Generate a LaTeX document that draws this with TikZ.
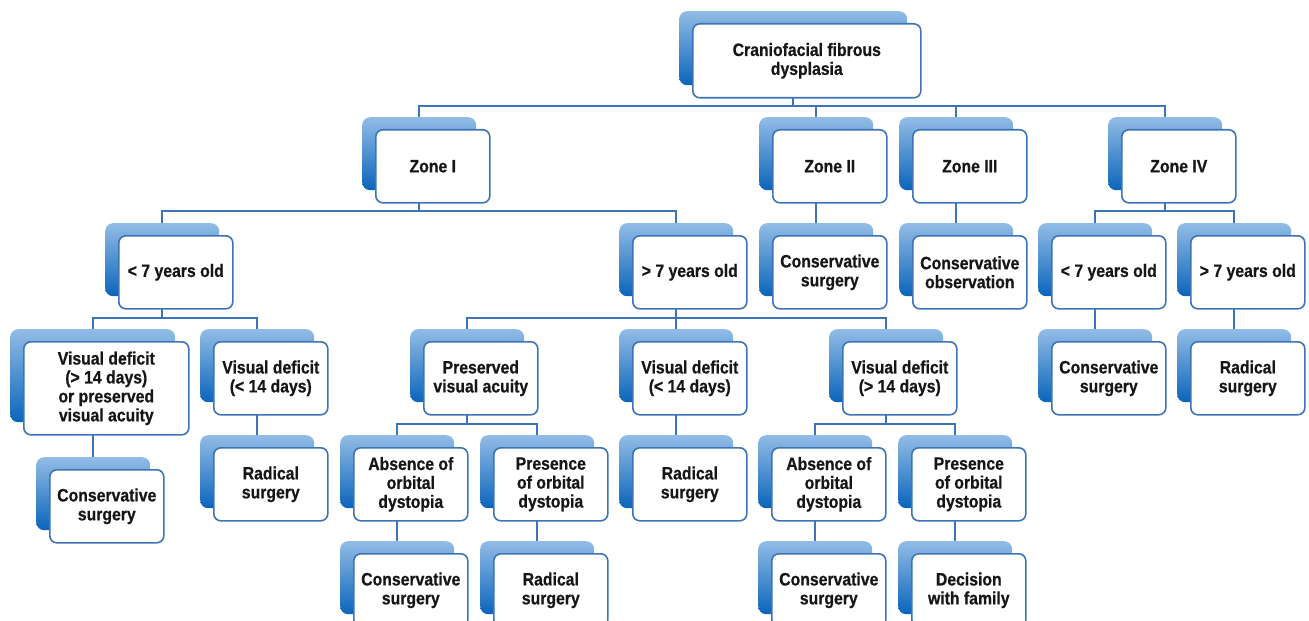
\documentclass[tikz,border=0pt]{standalone}
\usepackage{fontspec}
\setmainfont{Liberation Sans}[FakeStretch=0.88, BoldFeatures={FakeBold=0.6}]
\definecolor{bord}{RGB}{61,116,184}
\definecolor{shtop}{RGB}{146,188,230}
\definecolor{shbot}{RGB}{10,100,186}
\definecolor{txt}{RGB}{22,22,22}
\pgfdeclarelayer{background}
\pgfsetlayers{background,main}
\tikzset{
  shbox/.style={rectangle, rounded corners=8bp, anchor=north west, inner sep=0pt,
    top color=shtop, bottom color=shbot, draw=none},
  frbox/.style={rectangle, rounded corners=7bp, anchor=north west, inner sep=0pt,
    fill=white, draw=bord, line width=1.6bp, align=center, text=txt,
    font=\fontsize{18}{19}\selectfont\bfseries},
  conn/.style={draw=bord, line width=1.6bp}
}
\newcommand{\mkbox}[6]{%
  \node[shbox, minimum width=#4bp, minimum height=#5bp] (#1s) at (#2,#3) {};
  \node[frbox, minimum width=#4bp, minimum height=#5bp] (#1) at (#2+13,#3+12) {#6};}
\newcommand{\lnk}[3]{\draw[conn] (#1s.center) -- (#1s.center |- #3) -| (#2s.center);}
\newcommand{\lnkd}[2]{\draw[conn] (#1s.center) -- (#2s.center);}
\begin{document}
\begin{tikzpicture}[x=1bp,y=-1bp]
\useasboundingbox (0,0) rectangle (1309,621);
\clip (0,0) rectangle (1309,621);
% bus coordinates
\coordinate (busA) at (0,106);
\coordinate (busB) at (0,211);
\coordinate (busC) at (0,318);
\coordinate (busD) at (0,424);
% row 0
\mkbox{top}{679}{11}{228}{74}{\fontsize{18}{22}\selectfont Craniofacial fibrous\\dysplasia}
% row 1
\mkbox{z1}{362}{117}{114}{73}{Zone I}
\mkbox{z2}{759}{117}{114}{73}{Zone II}
\mkbox{z3}{899}{117}{114}{73}{Zone III}
\mkbox{z4}{1108}{117}{114}{73}{Zone IV}
% row 2
\mkbox{aL}{105}{223}{114}{73}{< 7 years old}
\mkbox{aG}{619}{223}{114}{73}{> 7 years old}
\mkbox{zcs}{759}{223}{114}{73}{Conservative\\surgery}
\mkbox{zco}{899}{223}{114}{73}{Conservative\\observation}
\mkbox{bL}{1038}{223}{114}{73}{< 7 years old}
\mkbox{bG}{1177}{223}{114}{73}{> 7 years old}
% row 3
\mkbox{vdo}{10}{329}{165}{93}{Visual deficit\\(> 14 days)\\or preserved\\visual acuity}
\mkbox{vdl}{200}{329}{114}{73}{Visual deficit\\(< 14 days)}
\mkbox{pva}{410}{329}{114}{73}{Preserved\\visual acuity}
\mkbox{vdm}{619}{329}{114}{73}{Visual deficit\\(< 14 days)}
\mkbox{vdg}{829}{329}{114}{73}{Visual deficit\\(> 14 days)}
\mkbox{bcs}{1038}{329}{114}{73}{Conservative\\surgery}
\mkbox{brs}{1177}{329}{114}{73}{Radical\\surgery}
% row 4
\mkbox{lcs}{36}{457}{114}{73}{Conservative\\surgery}
\mkbox{lrs}{200}{435}{114}{73}{Radical\\surgery}
\mkbox{abA}{340}{435}{114}{73}{Absence of\\orbital\\dystopia}
\mkbox{prA}{480}{435}{114}{73}{Presence\\of orbital\\dystopia}
\mkbox{mrs}{619}{435}{114}{73}{Radical\\surgery}
\mkbox{abB}{758}{435}{114}{73}{Absence of\\orbital\\dystopia}
\mkbox{prB}{898}{435}{114}{73}{Presence\\of orbital\\dystopia}
% row 5
\mkbox{cA}{340}{541}{114}{73}{Conservative\\surgery}
\mkbox{rA}{480}{541}{114}{73}{Radical\\surgery}
\mkbox{cB}{758}{541}{114}{73}{Conservative\\surgery}
\mkbox{dB}{898}{541}{114}{73}{Decision\\with family}
\begin{pgfonlayer}{background}
\lnk{top}{z1}{busA}
\lnk{top}{z2}{busA}
\lnk{top}{z3}{busA}
\lnk{top}{z4}{busA}
\lnk{z1}{aL}{busB}
\lnk{z1}{aG}{busB}
\lnkd{z2}{zcs}
\lnkd{z3}{zco}
\lnk{z4}{bL}{busB}
\lnk{z4}{bG}{busB}
\lnk{aL}{vdo}{busC}
\lnk{aL}{vdl}{busC}
\lnk{aG}{pva}{busC}
\lnk{aG}{vdm}{busC}
\lnk{aG}{vdg}{busC}
\lnkd{bL}{bcs}
\lnkd{bG}{brs}
\lnkd{vdo}{lcs}
\lnkd{vdl}{lrs}
\lnk{pva}{abA}{busD}
\lnk{pva}{prA}{busD}
\lnkd{vdm}{mrs}
\lnk{vdg}{abB}{busD}
\lnk{vdg}{prB}{busD}
\lnkd{abA}{cA}
\lnkd{prA}{rA}
\lnkd{abB}{cB}
\lnkd{prB}{dB}
\end{pgfonlayer}
\end{tikzpicture}
\end{document}
